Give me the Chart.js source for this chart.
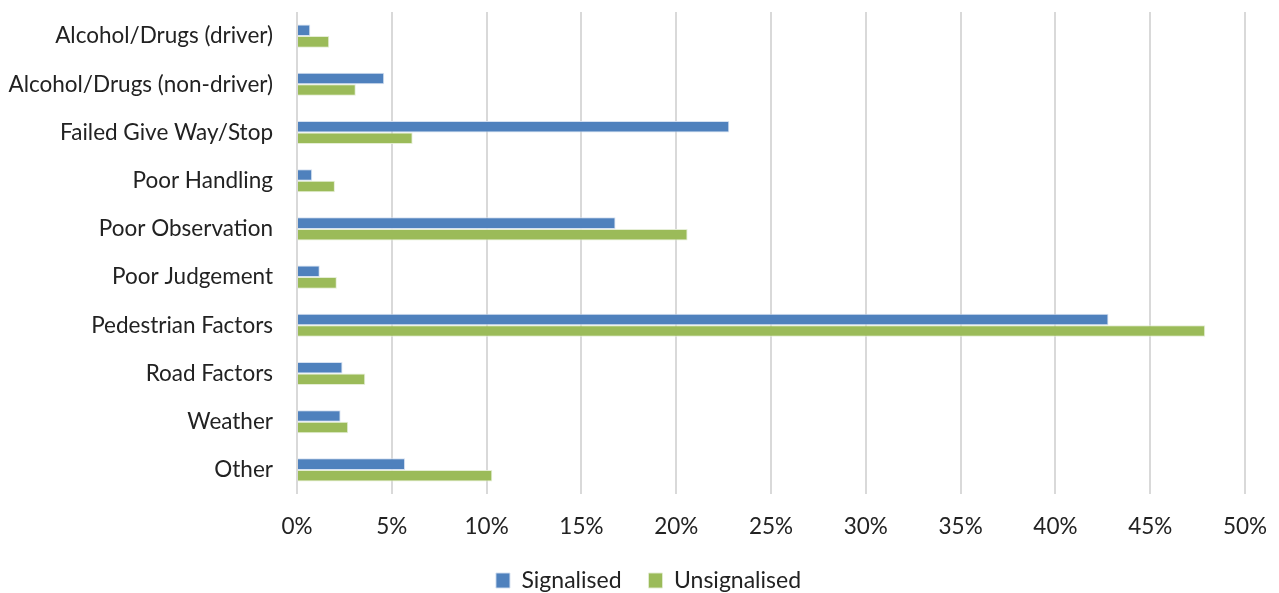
<!DOCTYPE html>
<html>
<head>
<meta charset="utf-8">
<script src="https://cdn.jsdelivr.net/npm/chart.js@4/dist/chart.umd.min.js"></script>
<style>
  html, body { margin: 0; padding: 0; background: #ffffff; }
  #wrap { width: 1279px; height: 593px; }
</style>
</head>
<body>
<div id="wrap"><canvas id="chart" width="1279" height="593"></canvas></div>
<script>
// Contributing factors, share of crashes (%)
const categories = [
  'Alcohol/Drugs (driver)',
  'Alcohol/Drugs (non-driver)',
  'Failed Give Way/Stop',
  'Poor Handling',
  'Poor Observation',
  'Poor Judgement',
  'Pedestrian Factors',
  'Road Factors',
  'Weather',
  'Other'
];
const signalised   = [0.7, 4.6, 22.8, 0.8, 16.8, 1.2, 42.8, 2.4, 2.3, 5.7];
const unsignalised = [1.7, 3.1, 6.1, 2.0, 20.6, 2.1, 47.9, 3.6, 2.7, 10.3];
const tickValues   = [0, 5, 10, 15, 20, 25, 30, 35, 40, 45, 50];

const FONT = "Lato, 'Open Sans', sans-serif";
const TEXT = '#222222';

// Centre the legend on the whole canvas rather than on the padded box
const legendShift = {
  id: 'legendShift',
  afterLayout(chart) {
    const lg = chart.legend;
    if (lg) { lg.left += 26; lg.right += 26; }
  }
};

new Chart(document.getElementById('chart'), {
  type: 'bar',
  data: {
    labels: categories,
    datasets: [
      {
        label: 'Signalised',
        data: signalised,
        backgroundColor: '#4F81BD',
        borderColor: 'rgba(210,222,240,0.9)',
        borderWidth: 1,
        categoryPercentage: 0.48,
        barPercentage: 1.0
      },
      {
        label: 'Unsignalised',
        data: unsignalised,
        backgroundColor: '#9BBB59',
        borderColor: 'rgba(226,236,208,0.9)',
        borderWidth: 1,
        categoryPercentage: 0.48,
        barPercentage: 1.0
      }
    ]
  },
  plugins: [legendShift],
  options: {
    indexAxis: 'y',
    responsive: false,
    animation: false,
    layout: { padding: { top: 12, right: 34, bottom: -9, left: 0 } },
    plugins: {
      tooltip: { enabled: false },
      legend: {
        position: 'bottom',
        labels: {
          font: { family: FONT, size: 23 },
          color: TEXT,
          boxWidth: 14,
          boxHeight: 15,
          padding: 27
        }
      }
    },
    scales: {
      x: {
        min: 0,
        max: 50,
        afterBuildTicks: (axis) => { axis.ticks = tickValues.map(v => ({ value: v })); },
        afterFit: (axis) => {
          axis.height = 48;
          axis.paddingLeft = 0;
          axis.paddingRight = 0;
        },
        grid: { color: '#d9d9d9', lineWidth: 2, drawTicks: false },
        border: { display: false },
        ticks: {
          padding: 19,
          color: TEXT,
          font: { family: FONT, size: 22.5 },
          callback: (v) => v + '%'
        }
      },
      y: {
        afterFit: (axis) => {
          axis.width = 297;
          axis.paddingTop = 0;
          axis.paddingBottom = 0;
        },
        grid: { display: false },
        border: { display: false },
        ticks: {
          padding: 16,
          color: TEXT,
          font: { family: FONT, size: 22.5 }
        }
      }
    }
  }
});
</script>
</body>
</html>
